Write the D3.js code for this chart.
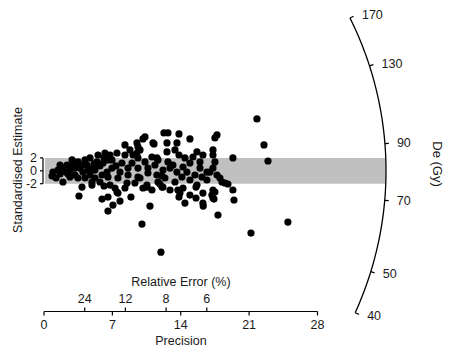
<!DOCTYPE html>
<html>
<head>
<meta charset="utf-8">
<script src="https://cdn.jsdelivr.net/npm/d3@7"></script>
<style>
  body { margin: 0; background: #fff; }
  svg { font-family: "Liberation Sans", Arial, sans-serif; }
  text { fill: #1a1a1a; }
</style>
</head>
<body>
<svg id="chart" width="449" height="354"></svg>
<script>
// precision (1/sigma) and standardised estimate
const precision = [
  0.92, 0.82, 1.94, 1.94, 2.35, 2.66, 2.97, 3.48, 3.68, 3.17, 2.66, 3.99, 4.40, 4.71, 5.02, 5.42,
  5.53, 6.24, 6.04, 6.45, 5.94, 5.22, 3.89, 4.91, 5.73, 6.55, 3.58, 5.94, 6.55, 7.06, 7.78, 8.90,
  7.47, 7.27, 6.14, 4.91, 6.76, 7.47, 8.29, 10.13, 11.26, 12.28, 12.69, 13.82, 12.59, 13.61, 14.94,
  17.71, 17.50, 12.59, 13.82, 15.66, 17.30, 19.34, 17.30, 19.34, 19.45, 17.81, 14.43, 13.82, 13.71,
  15.56, 16.27, 16.27, 16.30, 17.30, 17.30, 18.53, 18.83, 11.67, 12.08, 10.54, 10.13, 9.83, 9.52,
  9.11, 9.62, 10.03, 11.97, 10.85, 21.80, 22.52, 22.93, 21.19, 24.97, 17.50, 16.99, 17.71, 18.01,
  15.97, 9.62, 7.98, 9.01, 10.34, 11.05, 11.67, 12.69, 6.96, 7.78, 8.60, 9.62, 10.64, 11.36, 12.18,
  12.90, 6.55, 7.57, 8.60, 9.62, 10.64, 11.56, 12.38, 6.76, 8.50, 9.83, 10.54, 12.18, 7.57, 6.55,
  13.20, 13.61, 14.63, 14.12, 15.45, 16.17, 16.68, 15.66, 14.23, 13.92, 17.19, 16.27, 15.25, 14.94,
  14.23, 15.97, 16.68, 17.30, 18.22, 11.87, 17.50, 17.40,
  1.43, 1.64, 2.25, 2.87, 4.20, 4.50, 5.22, 5.73, 3.48, 4.20, 1.64, 6.14, 6.96, 7.37, 4.71, 3.17,
  2.46, 1.23, 5.12, 3.89, 8.29, 8.80, 10.34, 9.52, 11.16, 11.56, 13.41, 14.43, 12.08, 13.41, 14.94,
  8.29, 9.31, 11.05, 12.90, 14.94, 15.56
];
const stdEstimate = [
  -0.19, -0.81, -1.74, 0.43, 0.90, 0.12, 0.90, 1.37, 0.43, -0.65, -0.96, -0.19, 0.90, -0.65, 0.43, 1.37,
  2.45, 2.76, 1.21, -0.19, -0.65, -1.12, -2.52, -1.74, -1.74, 1.68, -3.91, -4.38, -6.24, -5.31, -4.69, -4.07,
  -3.29, -2.67, -2.36, -2.21, 2.45, 2.76, 4.01, 4.94, 4.16, 5.87, 5.87, 5.71, 4.32, 4.32, 4.94,
  5.56, 5.09, 2.92, 2.45, 2.92, 3.23, 1.99, 2.45, -2.98, -4.53, -6.86, -5.00, -4.07, -2.98,
  -2.52, -3.45, -5.00, -5.47, -2.98, -4.22, -1.89, -2.05, -1.74, -2.52, -2.52, -2.67, 3.23, 2.76,
  2.45, 3.70, -8.26, -12.61, -5.47, 8.04, 4.01, 1.52, -9.66, -7.95, 1.37, -0.19, -0.65, -1.12,
  1.37, 1.99, 1.21, 1.21, 1.37, 2.14, 1.68, 1.37, 0.43, -0.19, 0.43, 0.43, 0.43, 0.90, 0.12,
  0.43, -0.96, -1.12, -0.65, -0.96, -0.34, -0.65, -1.12, -2.21, -1.89, -1.12, -2.21, -2.52, -3.45, -4.07,
  0.90, -0.19, -0.19, -0.96, -0.65, -0.96, -1.43, -2.21, -2.67, -3.45, -3.76, 2.45, 2.14, 1.21,
  0.59, 0.43, -0.19, 0.43, -1.74, -2.05, -3.29, -4.38,
  0.12, -0.50, -0.19, 1.68, 1.68, 0.12, 0.12, 0.75, -1.12, -1.12, 0.90, 1.99, 1.68, 0.75, 1.99, 0.43,
  -0.50, -1.12, 1.06, 0.90, 2.45, 3.23, 5.25, 4.32, 4.32, 1.99, 3.23, 1.99, -0.81, -1.74, -1.43,
  -2.67, -1.89, -2.98, -2.98, -3.76, -4.22
];

const precisionTicks = [0, 7, 14, 21, 28];
const relErrorTicks = [24, 12, 8, 6];
const zTicks = [-2, 0, 2];
const deTicks = [40, 50, 70, 90, 130, 170];
const deRange = [40, 170];
const centralDe = 79.8;

const svg = d3.select('#chart');

const x = d3.scaleLinear().domain([0, 28]).range([44, 317.5]);
const y = d3.scaleLinear().domain([-2, 2]).range([183.7, 157.9]);

const arcR = 342;
const tickLen = 4;
const x0 = x(0);
const y0 = y(0);

// point on the radial axis for a De value
function arcPoint(de, r) {
  const s = Math.log(de) - Math.log(centralDe);
  const dx = x(1) - x(0);
  const dy = y(s) - y(0);
  const len = Math.sqrt(dx * dx + dy * dy);
  return [x0 + r * dx / len, y0 + r * dy / len];
}

// grey +/-2 band
const yTop = y(2);
const yBot = y(-2);
const bandRight = d => x0 + Math.sqrt(arcR * arcR - (d - y0) * (d - y0));
svg.append('path')
  .attr('d', `M${x0 + 1},${yTop}L${bandRight(yTop)},${yTop}L${bandRight(yBot)},${yBot}L${x0 + 1},${yBot}Z`)
  .attr('fill', '#c0c0c0');

// points
svg.append('g')
  .selectAll('circle')
  .data(precision.map((p, i) => ({ p, z: stdEstimate[i] })))
  .enter()
  .append('circle')
  .attr('cx', d => x(d.p))
  .attr('cy', d => y(d.z))
  .attr('r', 3.6)
  .attr('fill', '#000');

// y axis
const yAxisX = 43;
const yAxis = svg.append('g');
yAxis.append('line')
  .attr('x1', yAxisX).attr('x2', yAxisX)
  .attr('y1', y(-2)).attr('y2', y(2))
  .attr('stroke', '#000').attr('stroke-width', 1.2);
yAxis.selectAll('.tick')
  .data(zTicks)
  .enter()
  .append('line')
  .attr('x1', yAxisX - 3).attr('x2', yAxisX)
  .attr('y1', d => y(d)).attr('y2', d => y(d))
  .attr('stroke', '#000').attr('stroke-width', 1.2);
yAxis.selectAll('text')
  .data(zTicks)
  .enter()
  .append('text')
  .attr('x', yAxisX - 6)
  .attr('y', d => y(d))
  .attr('dy', '0.35em')
  .attr('text-anchor', 'end')
  .attr('font-size', 12.5)
  .text(d => d);

svg.append('text')
  .attr('transform', 'translate(22, 170) rotate(-90)')
  .attr('text-anchor', 'middle')
  .attr('font-size', 12.5)
  .text('Standardised Estimate');

// x axis with precision below and relative error above
const axisY = 311.5;
const xAxis = svg.append('g');
xAxis.append('line')
  .attr('x1', x(0)).attr('x2', x(28))
  .attr('y1', axisY).attr('y2', axisY)
  .attr('stroke', '#000').attr('stroke-width', 1.2);
xAxis.selectAll('.ptick')
  .data(precisionTicks)
  .enter()
  .append('line')
  .attr('x1', d => x(d)).attr('x2', d => x(d))
  .attr('y1', axisY).attr('y2', axisY + 4)
  .attr('stroke', '#000').attr('stroke-width', 1.2);
xAxis.selectAll('.plabel')
  .data(precisionTicks)
  .enter()
  .append('text')
  .attr('x', d => x(d))
  .attr('y', axisY + 17)
  .attr('text-anchor', 'middle')
  .attr('font-size', 12.5)
  .text(d => d);
xAxis.selectAll('.rtick')
  .data(relErrorTicks)
  .enter()
  .append('line')
  .attr('x1', d => x(100 / d)).attr('x2', d => x(100 / d))
  .attr('y1', axisY).attr('y2', axisY - 4)
  .attr('stroke', '#000').attr('stroke-width', 1.2);
xAxis.selectAll('.rlabel')
  .data(relErrorTicks)
  .enter()
  .append('text')
  .attr('x', d => x(100 / d))
  .attr('y', axisY - 9)
  .attr('text-anchor', 'middle')
  .attr('font-size', 12.5)
  .text(d => d);

svg.append('text')
  .attr('x', 181)
  .attr('y', 286)
  .attr('text-anchor', 'middle')
  .attr('font-size', 12.5)
  .text('Relative Error (%)');
svg.append('text')
  .attr('x', 181)
  .attr('y', 345)
  .attr('text-anchor', 'middle')
  .attr('font-size', 12.5)
  .text('Precision');

// radial De axis
const lnSteps = d3.range(0, 101).map(i =>
  Math.exp(Math.log(deRange[0]) + (Math.log(deRange[1]) - Math.log(deRange[0])) * i / 100));
svg.append('path')
  .attr('d', d3.line()(lnSteps.map(v => arcPoint(v, arcR))))
  .attr('fill', 'none')
  .attr('stroke', '#000')
  .attr('stroke-width', 1.3);

const deAxis = svg.append('g');
deAxis.selectAll('line')
  .data(deTicks)
  .enter()
  .append('line')
  .attr('x1', d => arcPoint(d, arcR)[0])
  .attr('y1', d => arcPoint(d, arcR)[1])
  .attr('x2', d => arcPoint(d, arcR + tickLen)[0])
  .attr('y2', d => arcPoint(d, arcR + tickLen)[1])
  .attr('stroke', '#000').attr('stroke-width', 1.2);
deAxis.selectAll('text')
  .data(deTicks)
  .enter()
  .append('text')
  .attr('x', d => arcPoint(d, arcR)[0] + 12)
  .attr('y', d => arcPoint(d, arcR + 8)[1])
  .attr('dy', '0.35em')
  .attr('font-size', 12.5)
  .text(d => d);

svg.append('text')
  .attr('transform', 'translate(433, 164) rotate(90)')
  .attr('text-anchor', 'middle')
  .attr('font-size', 13)
  .text('De (Gy)');
</script>
</body>
</html>
